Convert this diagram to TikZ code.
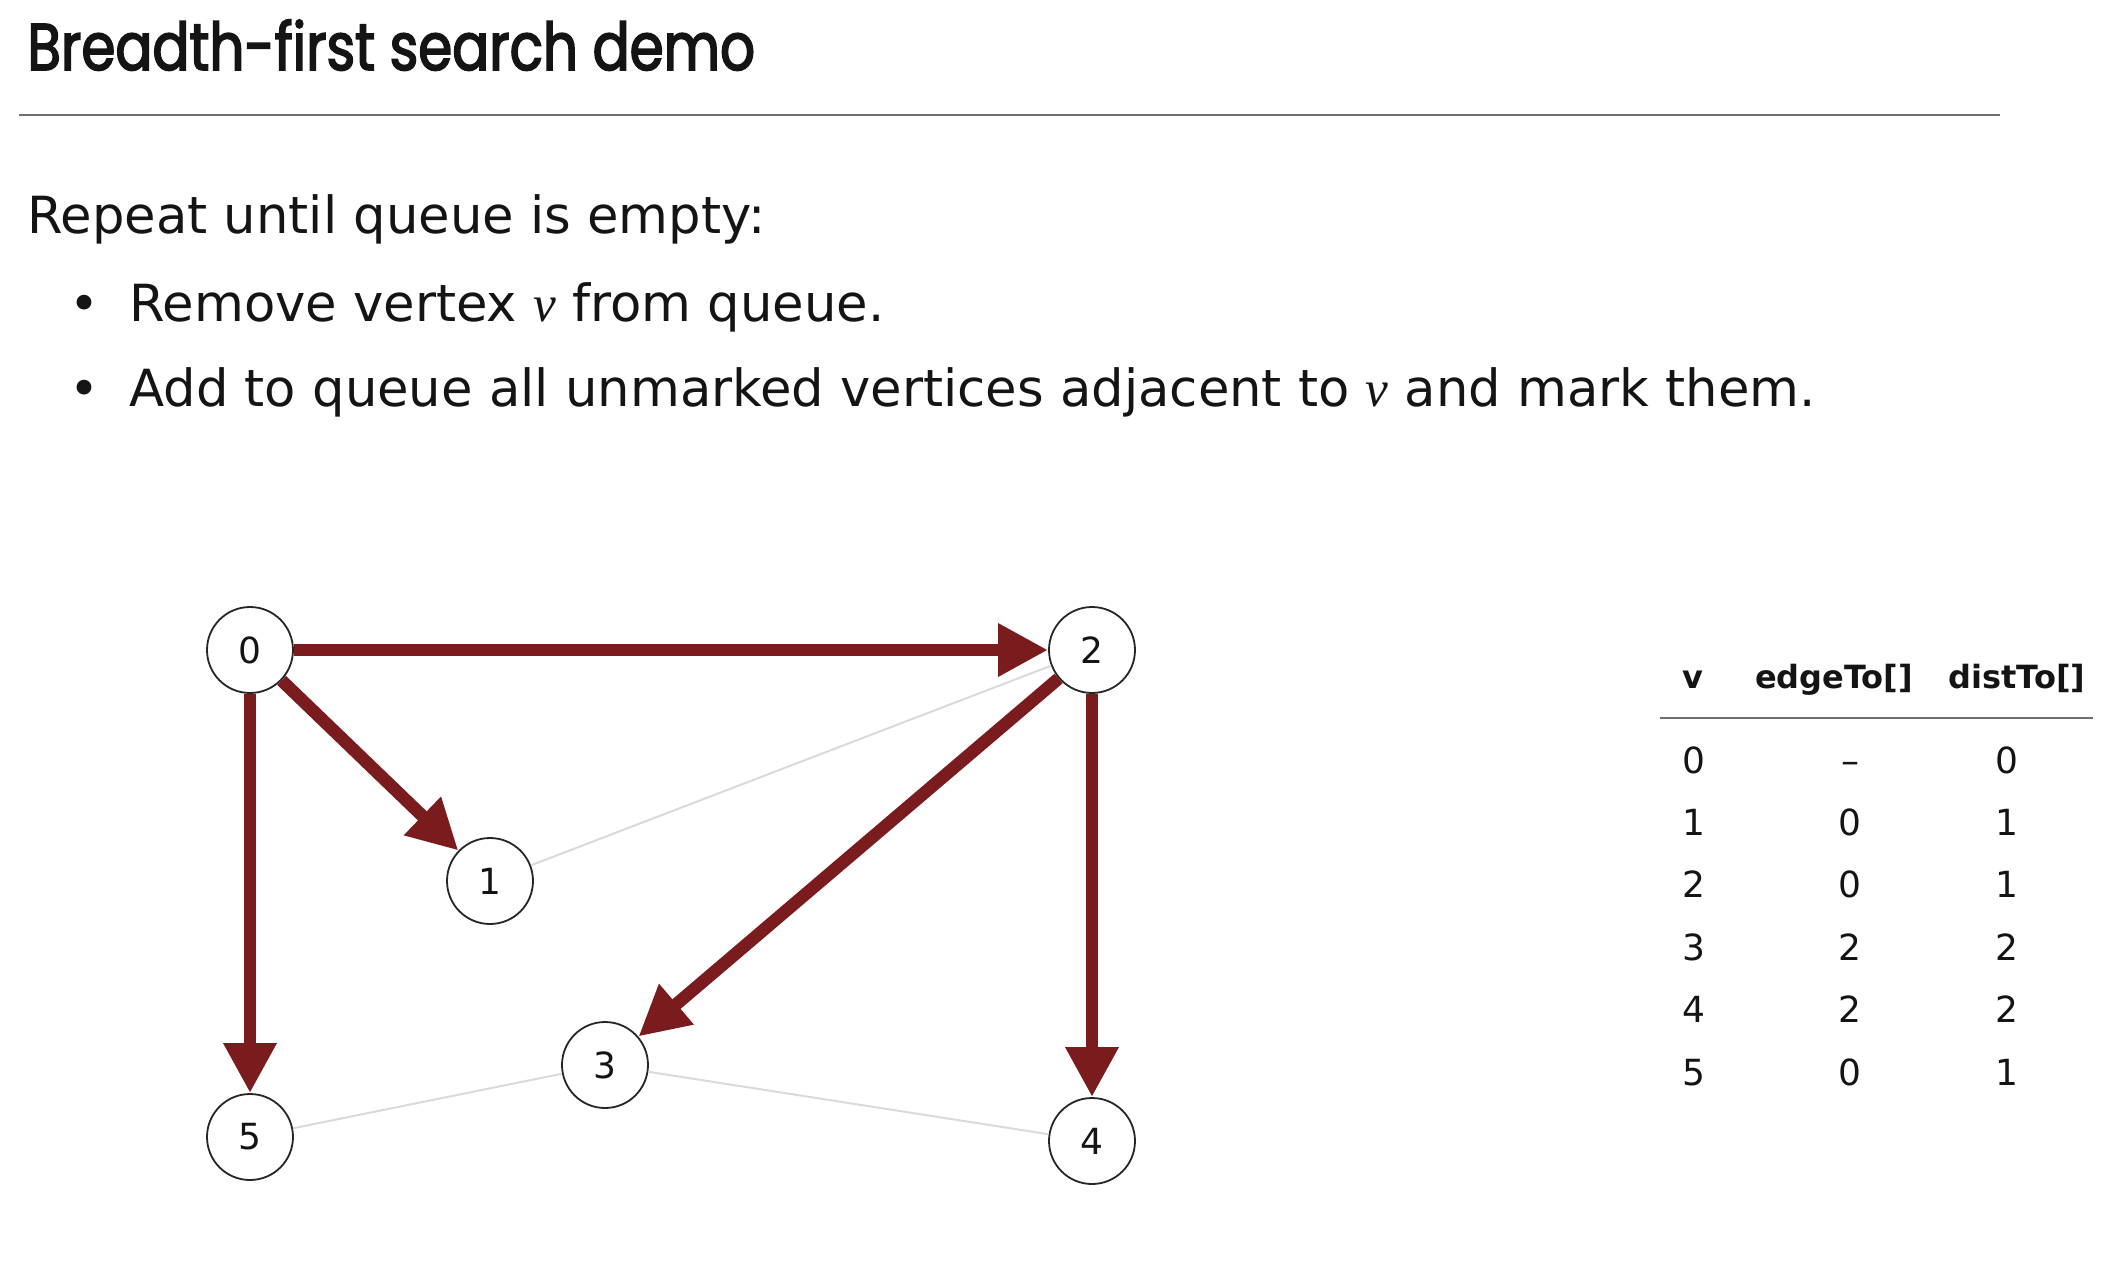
\documentclass[tikz,border=0pt]{standalone}
\usepackage{fontspec}
\setmainfont{DejaVu Sans}
\newfontfamily\titlefont{Poppins}[FakeStretch=0.83,FakeBold=2.5]
\newfontfamily\varfont{Liberation Serif}
\usetikzlibrary{arrows.meta}

\definecolor{treeedge}{RGB}{122,28,30}
\definecolor{graphedge}{RGB}{218,218,218}
\definecolor{rulegray}{RGB}{110,110,110}
\definecolor{inkblack}{RGB}{20,20,20}

\begin{document}
\begin{tikzpicture}[x=0.5pt,y=-0.5pt,
  every node/.style={text=inkblack},
  vertex/.style={circle,draw=black!85,line width=0.9pt,fill=white,
    minimum size=43pt,inner sep=0pt,font=\fontsize{18}{18}\selectfont},
  treearrow/.style={draw=treeedge,line width=6.3pt,
    -{Triangle[length=25pt,width=25pt]}},
  plainedge/.style={draw=graphedge,line width=1pt},
  line/.style={anchor=base west,inner sep=0pt,font=\fontsize{25.6}{26}\selectfont},
  bulletmark/.style={anchor=base,inner sep=0pt,font=\fontsize{25.4}{26}\selectfont},
  headcell/.style={anchor=base,inner sep=0pt,font=\fontsize{16}{16}\selectfont\bfseries},
  cell/.style={anchor=base,inner sep=0pt,font=\fontsize{18}{18}\selectfont}]

% canvas
\useasboundingbox (0,0) rectangle (2122,1270);

% heading and rule
\node[anchor=base west,inner sep=0pt,font=\titlefont\fontsize{33}{33}\selectfont]
  (title) at (27,70) {Breadth-first search demo};
\draw[rulegray,line width=1.2pt] (19,115) -- (2000,115);

% description of the loop
\node[line] (rep) at (27,233) {Repeat until queue is empty:};
\node[bulletmark] (b1) at (84,321) {•};
\node[line] (l1) at (129,321) {Remove vertex {\varfont\itshape v} from queue.};
\node[bulletmark] (b2) at (84,406) {•};
\node[line] (l2) at (129,406) {Add to queue all unmarked vertices adjacent to {\varfont\itshape v} and mark them.};

% vertices
\node[vertex] (v0) at (250,650) {0};
\node[vertex] (v1) at (490,881) {1};
\node[vertex] (v2) at (1092,650) {2};
\node[vertex] (v3) at (605,1065) {3};
\node[vertex] (v4) at (1092,1141) {4};
\node[vertex] (v5) at (250,1137) {5};

% non-tree edges
\draw[plainedge] (v1) -- (v2);
\draw[plainedge] (v3) -- (v5);
\draw[plainedge] (v3) -- (v4);

% BFS tree edges
\draw[treearrow] (v0) -- (v2);
\draw[treearrow] (v0) -- (v1);
\draw[treearrow] (v0) -- (v5);
\draw[treearrow] (v2) -- (v3);
\draw[treearrow] (v2) -- (v4);

% table of edgeTo[] and distTo[]
\node[headcell] (hv) at (1693,688) {v};
\node[headcell] (he) at (1834,688) {edgeTo[]};
\node[headcell] (hd) at (2017,688) {distTo[]};
\draw[rulegray,line width=1pt] (1660,718) -- (2093,718);

\foreach \v/\e/\d [count=\i from 0] in {0/\textendash/0,1/0/1,2/0/1,3/2/2,4/2/2,5/0/1}{
  \node[cell] (rv\i) at (1694,773+62.4*\i) {\v};
  \node[cell] (re\i) at (1850,773+62.4*\i) {\e};
  \node[cell] (rd\i) at (2007,773+62.4*\i) {\d};
}
\end{tikzpicture}
\end{document}
